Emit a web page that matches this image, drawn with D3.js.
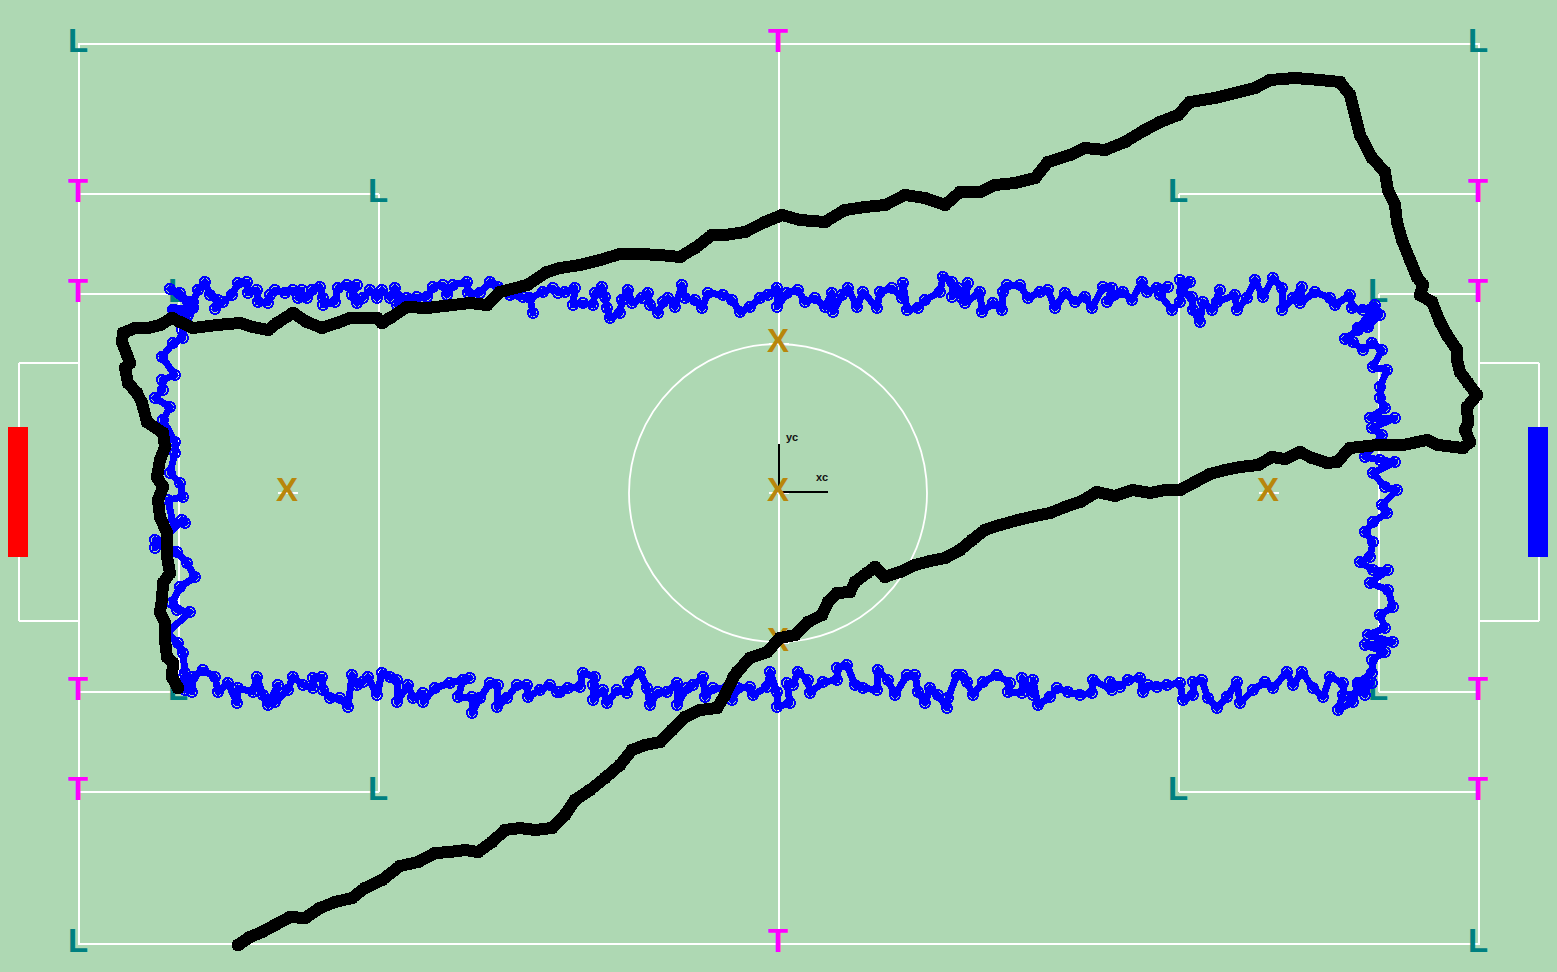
<!DOCTYPE html>
<html>
<head>
<meta charset="utf-8">
<script src="https://cdn.jsdelivr.net/npm/d3@7"></script>
<style>
body {margin: 0; background: #aed8b3;}
svg {display: block;}
text {font-family: "Liberation Sans", sans-serif; font-weight: bold;}
</style>
</head>
<body>
<div id="field"></div>
<script>
// robot tracks, pitch units, origin at centre circle
const blueTop = [[-609,205],[-599,201],[-591,192],[-586,186],[-604,184],[-591,179],[-586,192],[-581,204],[-574,212],[-569,199],[-561,194],[-564,185],[-556,192],[-547,199],[-541,211],[-532,212],[-531,201],[-522,204],[-521,192],[-511,191],[-509,199],[-504,204],[-494,201],[-486,204],[-477,204],[-481,196],[-472,196],[-467,204],[-459,207],[-456,196],[-456,189],[-444,192],[-441,206],[-432,209],[-422,209],[-427,199],[-422,191],[-416,196],[-409,204],[-402,196],[-397,204],[-389,196],[-384,206],[-379,196],[-382,189],[-372,196],[-362,197],[-352,197],[-346,207],[-336,209],[-332,199],[-326,209],[-312,212],[-311,201],[-299,201],[-289,212],[-281,207],[-269,199],[-256,197],[-249,196],[-246,181],[-249,196],[-236,202],[-226,206],[-221,201],
[-214,202],[-204,206],[-206,189],[-196,191],[-186,189],[-184,201],[-177,207],[-174,197],[-172,186],[-169,176],[-159,181],[-157,194],[-151,204],[-147,191],[-137,196],[-131,201],[-129,189],[-121,181],[-116,192],[-111,196],[-104,187],[-97,209],[-94,196],[-84,194],[-77,186],[-71,201],[-56,199],[-47,194],[-39,182],[-29,187],[-19,196],[-11,199],[-2,206],[-2,187],[8,201],[19,204],[26,192],[36,196],[46,187],[53,201],[54,182],[63,199],[69,206],[78,187],[84,202],[98,186],[101,202],[113,206],[123,196],[124,211],[128,184],[139,186],[146,194],[161,202],[164,217],[173,212],[173,197],[179,206],
[183,196],[189,211],[186,191],[201,202],[203,182],[214,191],[223,184],[224,202],[228,209],[241,209],[249,196],[261,202],[269,204],[276,186],[286,201],[296,192],[306,197],[313,186],[324,207],[333,206],[328,192],[344,202],[353,194],[363,212],[368,202],[378,206],[389,207],[381,199],[393,184],[401,192],[401,214],[411,212],[403,202],[413,197],[414,184],[421,172],[424,192],[433,184],[441,204],[438,192],[456,199],[458,184],[468,196],[476,214],[484,197],[494,216],[503,206],[503,184],[514,196],[523,207],[521,191],[536,202],[551,196],[556,189],[571,199],[573,186],[584,184],[596,189],[601,179],[589,167],[579,166]];
const blueRight = [[594,184],[588,167],[579,164],[566,155],[574,152],[584,144],[593,151],[603,144],[594,127],[608,124],[601,107],[601,96],[606,86],[591,76],[616,76],[593,66],[603,59],[586,37],[601,34],[616,32],[594,21],[606,7],[618,4],[603,-11],[608,-19],[594,-28],[586,-38],[594,-48],[591,-63],[581,-68],[594,-76],[609,-76],[591,-89],[609,-96],[614,-113],[601,-121],[606,-134],[589,-141],[614,-148],[586,-151],[606,-158],[593,-166],[593,-179],[579,-189],[593,-189],[571,-203]];
const blueBottom = [[589,-188],[586,-201],[579,-191],[574,-208],[559,-216],[564,-201],[564,-189],[551,-183],[544,-203],[534,-194],[523,-178],[514,-191],[508,-178],[494,-194],[486,-188],[474,-196],[461,-209],[458,-188],[448,-203],[438,-214],[429,-204],[423,-186],[414,-188],[414,-201],[404,-206],[401,-189],[388,-191],[378,-193],[369,-191],[364,-198],[361,-184],[349,-186],[341,-193],[331,-188],[333,-196],[314,-186],[313,-199],[301,-201],[289,-198],[278,-194],[271,-203],[259,-211],[254,-186],[254,-201],[243,-184],[243,-199],[229,-198],[231,-189],[218,-181],[204,-188],[194,-201],[188,-188],[183,-181],
[178,-181],[169,-204],[168,-214],[159,-201],[151,-194],[146,-209],[139,-198],[136,-181],[128,-181],[116,-201],[109,-186],[99,-176],[98,-196],[84,-194],[76,-191],[68,-171],[58,-174],[58,-186],[44,-188],[31,-199],[29,-186],[19,-178],[14,-191],[8,-189],[11,-209],[-2,-213],[-2,-198],[-9,-178],[-12,-193],[-26,-201],[-29,-193],[-41,-194],[-47,-206],[-52,-194],[-66,-194],[-74,-203],[-76,-183],[-86,-191],[-92,-194],[-102,-211],[-102,-189],[-112,-198],[-121,-198],[-129,-211],[-132,-194],[-139,-178],[-151,-188],[-152,-199],[-162,-196],[-172,-209],[-176,-196],[-186,-206],[-186,-191],[-184,-183],[-196,-179],[-199,-193],[-211,-194],[-219,-198],
[-222,-198],[-229,-191],[-239,-196],[-251,-203],[-252,-191],[-262,-191],[-272,-204],[-282,-213],[-281,-191],[-289,-189],[-299,-204],[-307,-219],[-307,-203],[-321,-203],[-316,-186],[-309,-184],[-329,-189],[-344,-194],[-356,-208],[-356,-199],[-366,-204],[-371,-191],[-382,-208],[-382,-186],[-389,-183],[-397,-179],[-402,-201],[-411,-183],[-416,-188],[-422,-191],[-427,-181],[-431,-213],[-439,-204],[-449,-204],[-456,-196],[-457,-183],[-466,-184],[-466,-194],[-476,-191],[-486,-183],[-491,-196],[-504,-208],[-501,-191],[-511,-211],[-516,-201],[-522,-183],[-526,-198],[-541,-194],[-542,-209],[-551,-189],[-561,-198],[-564,-183],[-576,-176],[-586,-183],[-587,-198],[-596,-184],[-594,-196]];
const blueLeft = [[-589,-193],[-594,-179],[-596,-159],[-601,-149],[-612,-139],[-589,-118],[-602,-116],[-607,-109],[-599,-93],[-584,-83],[-592,-69],[-602,-58],[-624,-46],[-624,-54],[-597,-26],[-594,-29],[-606,-29],[-611,-6],[-596,-3],[-599,11],[-609,21],[-604,41],[-604,52],[-616,74],[-609,87],[-624,96],[-616,104],[-617,114],[-604,119],[-617,137],[-606,151],[-596,156],[-597,164],[-592,177],[-606,184],[-586,187]];
const blackTrack = [[-541,-451],[-529,-443],[-517,-438],[-504,-431],[-489,-423],[-474,-424],[-459,-414],[-444,-408],[-427,-404],[-414,-394],[-397,-386],[-379,-372],[-361,-368],[-344,-359],[-329,-358],[-314,-356],[-301,-358],[-287,-348],[-274,-336],[-259,-334],[-244,-336],[-227,-334],[-214,-321],[-204,-306],[-189,-296],[-174,-284],[-159,-271],[-147,-256],[-134,-251],[-119,-248],[-107,-236],[-94,-223],[-79,-216],[-62,-214],[-54,-201],[-46,-184],[-42,-178],[-29,-164],[-12,-158],[1,-144],[16,-141],[29,-128],[43,-121],[49,-108],[58,-99],[71,-98],[76,-88],[88,-79],[96,-73],[106,-83],[121,-78],[136,-71],[151,-67],[166,-64],[181,-56],[193,-46],[206,-36],[221,-31],[239,-26],[256,-22],[271,-19],[286,-13],[301,-8],[318,2],[336,-2],[354,4],[371,1],[386,4],[401,4],[416,12],[431,20],[446,24],[461,27],[479,29],[493,37],[506,35],[521,42],[533,36],[548,31],[558,32],[571,46],[598,49],[624,49],[648,54],[659,49],[684,46],[691,52],[686,64],[689,71],[688,87],[698,99],[689,111],[681,122],[678,134],[678,144],[668,159],[661,172],[653,192],[641,199],[644,209],[638,217],[631,234],[623,254],[618,272],[616,289],[609,304],[606,322],[593,336],[581,359],[576,379],[571,399],[561,412],[541,414],[516,416],[491,414],[476,406],[456,401],[436,396],[411,392],[399,379],[381,372],[366,364],[346,352],[326,344],[306,346],[291,339],[269,332],[256,316],[236,311],[216,309],[201,302],[181,302],[166,289],[146,296],[126,299],[106,289],[86,287],[66,284],[46,272],[21,274],[3,279],[-14,272],[-34,262],[-54,259],[-67,259],[-84,246],[-99,237],[-119,239],[-139,240],[-159,240],[-179,234],[-199,229],[-219,226],[-232,222],[-252,209],[-279,202],[-292,189],[-309,191],[-352,186],[-372,187],[-389,176],[-397,171],[-402,176],[-429,176],[-442,171],[-457,166],[-472,172],[-486,181],[-502,171],[-511,164],[-526,167],[-539,171],[-562,169],[-586,166],[-599,172],[-607,176],[-619,169],[-631,166],[-644,166],[-656,161],[-657,152],[-652,139],[-649,131],[-654,126],[-651,111],[-642,101],[-637,91],[-632,72],[-616,61],[-614,47],[-619,34],[-622,17],[-616,7],[-621,-6],[-619,-23],[-612,-39],[-612,-63],[-609,-79],[-616,-89],[-617,-106],[-619,-118],[-614,-129],[-614,-146],[-612,-163],[-606,-169],[-607,-183],[-601,-194]];

// field landmarks
const cornerL = [[-700,450],[700,450],[-700,-450],[700,-450],[-400,300],[400,300],[-400,-298],[400,-298],[-600,200],[600,200],[-600,-198],[600,-198]];
const edgeT = [[0,450],[0,-450],[-700,300],[-700,200],[-700,-198],[-700,-298],[700,300],[700,200],[700,-198],[700,-298]];
const spotX = [[0,150],[0,1],[0,-149],[-491,1],[490,1]];
const penaltyBoxes = [[-700,300,-400,-298],[700,300,400,-298]];
const goalAreas = [[-700,200,-600,-198],[700,200,600,-198]];
const goalNets = [[-700,131,-760,-127],[700,131,760,-127]];
const goalBars = [[-771,67,-751,-63,"#ff0000"],[749,67,769,-63,"#0000ff"]];

const width = 1557;
const height = 972;

let xScale = d3.scaleLinear().domain([-700,700]).range([79,1479]);
let yScale = d3.scaleLinear().domain([450,-450]).range([44,944]);
let rScale = d3.scaleLinear().domain([0,900]).range([0,900]);

let svg = d3.select("#field").append("svg")
	.attr("width", width)
	.attr("height", height);

svg.append("rect")
	.attr("width", width)
	.attr("height", height)
	.attr("fill", "#aed8b3");

function whiteLine(x1,y1,x2,y2,w=2) {
	svg.append("line")
		.attr("x1", xScale(x1)).attr("y1", yScale(y1))
		.attr("x2", xScale(x2)).attr("y2", yScale(y2))
		.attr("stroke", "#fff")
		.attr("stroke-width", w);
}

// outer boundary and half way
svg.append("rect")
	.attr("x", xScale(-700)).attr("y", yScale(450))
	.attr("width", xScale(700)-xScale(-700))
	.attr("height", yScale(-450)-yScale(450))
	.attr("fill", "none").attr("stroke", "#fff").attr("stroke-width", 2);
whiteLine(0,450,0,-450);

penaltyBoxes.concat(goalAreas).concat(goalNets).forEach(function(b) {
	whiteLine(b[0],b[1],b[2],b[1]);
	whiteLine(b[2],b[1],b[2],b[3]);
	whiteLine(b[2],b[3],b[0],b[3]);
});

svg.append("circle")
	.attr("cx", xScale(-1)).attr("cy", yScale(1))
	.attr("r", rScale(149))
	.attr("fill", "none").attr("stroke", "#fff").attr("stroke-width", 1.8);

spotX.forEach(function(s) { whiteLine(s[0]-10,s[1],s[0]+10,s[1]); });

goalBars.forEach(function(g) {
	svg.append("rect")
		.attr("x", xScale(g[0])).attr("y", yScale(g[1]))
		.attr("width", xScale(g[2])-xScale(g[0]))
		.attr("height", yScale(g[3])-yScale(g[1]))
		.attr("fill", g[4]);
});

// centre frame
svg.append("line").attr("x1", xScale(0)).attr("y1", yScale(2)).attr("x2", xScale(49)).attr("y2", yScale(2))
	.attr("stroke", "#000").attr("stroke-width", 2);
svg.append("line").attr("x1", xScale(0)).attr("y1", yScale(2)).attr("x2", xScale(0)).attr("y2", yScale(50))
	.attr("stroke", "#000").attr("stroke-width", 2);
svg.append("text").attr("x", xScale(37)).attr("y", yScale(13)).style("font-size", "11px").attr("fill", "#111").text("xc");
svg.append("text").attr("x", xScale(7)).attr("y", yScale(53)).style("font-size", "11px").attr("fill", "#111").text("yc");

function drawLetters(points, letter, colour) {
	svg.append("g").selectAll("text")
		.data(points)
		.enter().append("text")
		.attr("x", d => xScale(d[0])-1)
		.attr("y", d => yScale(d[1])+8)
		.attr("text-anchor", "middle")
		.attr("fill", colour)
		.style("font-size", "33px")
		.text(letter);
}
drawLetters(cornerL, "L", "#008080");
drawLetters(edgeT, "T", "#ff00ff");
drawLetters(spotX, "X", "#b8860b");

let trackLine = d3.line().x(d => xScale(d[0])).y(d => yScale(d[1]));

function drawTrack(points, colour, lineWidth, r, ringWidth) {
	svg.append("path")
		.attr("d", trackLine(points))
		.attr("fill", "none")
		.attr("stroke", colour)
		.attr("stroke-width", lineWidth)
		.attr("stroke-linejoin", "round")
		.attr("stroke-linecap", "round")
		.attr("shape-rendering", "crispEdges");
	svg.append("g").selectAll("circle")
		.data(points)
		.enter().append("circle")
		.attr("cx", d => xScale(d[0]))
		.attr("cy", d => yScale(d[1]))
		.attr("r", r)
		.attr("fill", "none")
		.attr("stroke", colour)
		.attr("stroke-width", ringWidth)
		.attr("shape-rendering", "crispEdges");
}

const blueTrack = blueTop.concat(blueRight, blueBottom, blueLeft, [blueTop[0]]);
drawTrack(blueTrack, "#0000ff", 7, 5.2, 1.7);
drawTrack(blackTrack, "#000000", 12, 5, 3);
</script>
</body>
</html>
